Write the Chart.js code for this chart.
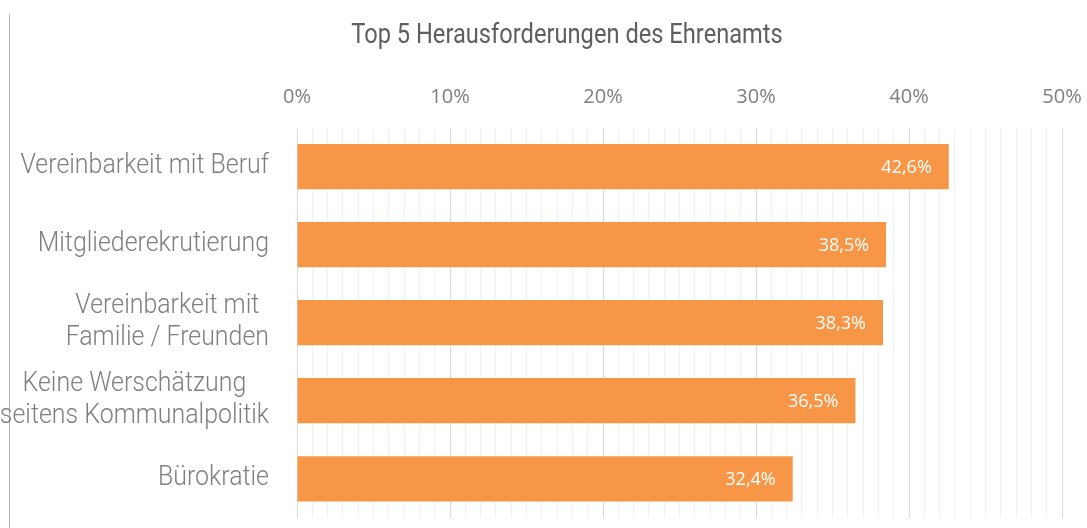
<!DOCTYPE html>
<html>
<head>
<meta charset="utf-8">
<script src="https://cdn.jsdelivr.net/npm/chart.js@4.4.1/dist/chart.umd.min.js"></script>
<style>
  html, body { margin: 0; padding: 0; background: #ffffff; }
  #wrap { position: relative; width: 1087px; height: 528px; }
  #edge { position: absolute; left: 9px; top: 14px; width: 1px; height: 514px; background: #b4b4b4; }
  #chart { position: absolute; left: 0; top: 0; }
</style>
</head>
<body>
<div id="wrap">
  <div id="edge"></div>
  <canvas id="chart" width="1087" height="528"></canvas>
</div>
<script>
// chart data
const chartTitle = 'Top 5 Herausforderungen des Ehrenamts';
const categories = [
    'Vereinbarkeit mit Beruf',
    'Mitgliederekrutierung',
    ['Vereinbarkeit mit', 'Familie / Freunden'],
    ['Keine Werschätzung', 'seitens Kommunalpolitik'],
    'Bürokratie'
];
const shares = [42.6, 38.5, 38.3, 36.5, 32.4];
const tickLabels = ['0%', '10%', '20%', '30%', '40%', '50%'];

const barColor = '#f79646';

// draw text squeezed horizontally (no narrow font installed)
function narrowText(ctx, text, x, y, squeeze, align) {
    const w = ctx.measureText(text).width * squeeze;
    let left = x;
    if (align === 'center') left = x - w / 2;
    if (align === 'right') left = x - w;
    ctx.save();
    ctx.textAlign = 'left';
    ctx.translate(left, y);
    ctx.scale(squeeze, 1);
    ctx.fillText(text, 0, 0);
    ctx.restore();
    return w;
}

// title, category labels and value labels drawn by hand
const extras = {
    id: 'extras',
    afterDatasetsDraw(chart) {
        const ctx = chart.ctx;
        const meta = chart.getDatasetMeta(0);
        ctx.save();
        ctx.fillStyle = '#ffffff';
        ctx.font = '18px "Open Sans", sans-serif';
        ctx.textAlign = 'right';
        ctx.textBaseline = 'middle';
        meta.data.forEach((bar, i) => {
            const txt = shares[i].toFixed(1).replace('.', ',') + '%';
            ctx.fillText(txt, bar.x - 17, bar.y + 1);
        });
        ctx.restore();
    },
    afterDraw(chart) {
        const ctx = chart.ctx;
        const yScale = chart.scales.y;
        ctx.save();
        ctx.textBaseline = 'alphabetic';
        // title
        ctx.fillStyle = '#5f5f5f';
        ctx.font = '28px Roboto, sans-serif';
        narrowText(ctx, chartTitle, 567, 43, 0.845, 'center');

        // category labels, lines centred inside a right aligned block
        ctx.fillStyle = '#7f7f7f';
        ctx.font = '300 28px Roboto, sans-serif';
        const sq = 0.89;
        const right = chart.chartArea.left - 28;
        categories.forEach((label, i) => {
            const lines = Array.isArray(label) ? label : [label];
            const blockW = Math.max(...lines.map(l => ctx.measureText(l).width)) * sq;
            const y = yScale.getPixelForValue(i);
            lines.forEach((line, k) => {
                const base = y + (k - (lines.length - 1) / 2) * 32 + 6;
                narrowText(ctx, line, right - blockW / 2, base, sq, 'center');
            });
        });
        ctx.restore();
    }
};

const ctx = document.getElementById('chart').getContext('2d');
const chart = new Chart(ctx, {
    type: 'bar',
    data: {
        labels: categories,
        datasets: [{
            data: shares,
            backgroundColor: barColor,
            borderWidth: 0,
            barPercentage: 0.58,
            categoryPercentage: 1
        }]
    },
    options: {
        indexAxis: 'y',
        responsive: false,
        animation: false,
        layout: { padding: { left: 0, right: 25, top: 0, bottom: 2 } },
        plugins: {
            legend: { display: false },
            tooltip: { enabled: false },
            title: { display: false }
        },
        scales: {
            x: {
                position: 'top',
                min: 0,
                max: 50,
                border: { display: false },
                grid: {
                    drawTicks: false,
                    color: c => (c.tick && c.tick.value % 10 === 0) ? '#d9d9d9' : '#f0f0f0',
                    lineWidth: 1
                },
                ticks: {
                    stepSize: 1,
                    autoSkip: false,
                    maxRotation: 0,
                    padding: 18,
                    color: '#7f7f7f',
                    font: { family: '"Open Sans", sans-serif', size: 20 },
                    callback: v => (v % 10 === 0) ? tickLabels[v / 10] : ''
                },
                afterFit: s => {
                    s.height = 127.5;
                    s.paddingLeft = 0;
                    s.paddingRight = 0;
                }
            },
            y: {
                border: { display: false },
                grid: { display: false },
                ticks: { color: 'rgba(0,0,0,0)', font: { size: 12 } },
                afterFit: s => { s.width = 297; }
            }
        }
    },
    plugins: [extras]
});
</script>
</body>
</html>
